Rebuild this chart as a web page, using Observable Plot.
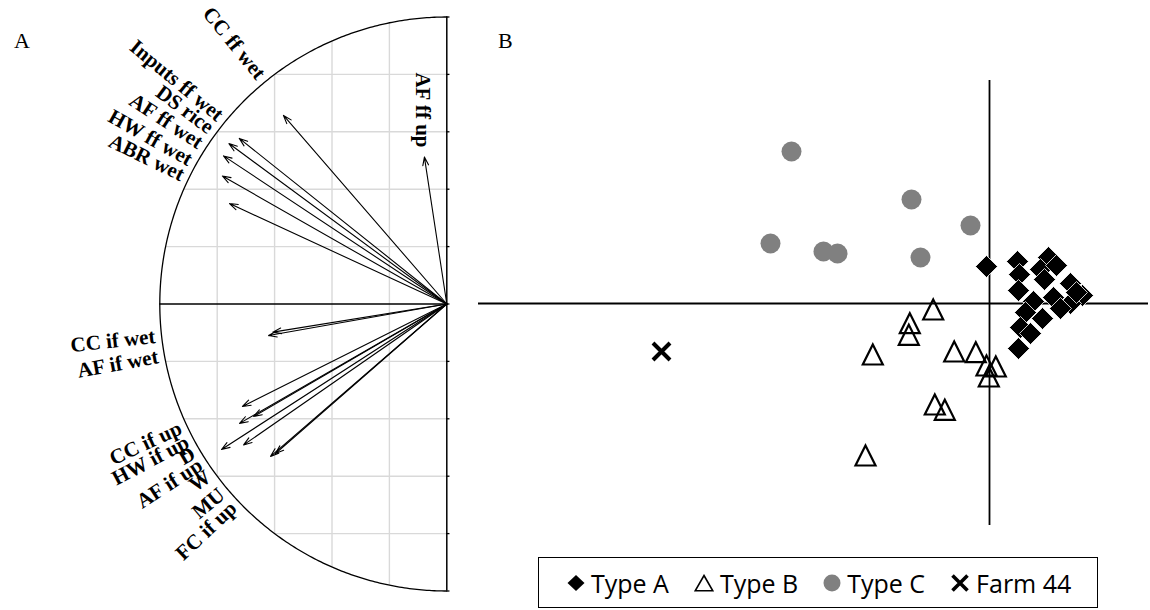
<!DOCTYPE html>
<html><head><meta charset="utf-8">
<script src="https://cdn.jsdelivr.net/npm/d3@7"></script>
<script src="https://cdn.jsdelivr.net/npm/@observablehq/plot@0.6"></script>
<style>
body{margin:0;background:#fff;}
#wrap{position:relative;width:1150px;height:610px;overflow:hidden;background:#fff;}
#wrap > *{position:absolute;}
.plab{font-family:"Liberation Serif",serif;font-size:22px;line-height:1;}
#legend{left:538px;top:557px;width:560px;height:51px;box-sizing:border-box;border:1.5px solid #000;background:#fff;
  font-family:"Open Sans",sans-serif;font-size:25px;display:flex;align-items:center;padding-left:28px;}
.item{display:flex;align-items:center;margin-right:25px;}
.item svg{margin-right:6px;}
</style></head><body>
<div id="wrap"></div>
<script>
// ---------- Panel A: correlation circle ----------
const arrowNames = ["CC ff wet","Inputs ff wet","DS rice","AF ff wet","HW ff wet","ABR wet","AF ff up",
  "CC if wet","AF if wet","CC if up","HW if up","D","AF if up","W","MU","FC if up","FC if up 2"];
const arrowX = [-0.569,-0.723,-0.759,-0.778,-0.782,-0.757,-0.078,
  -0.621,-0.606,-0.712,-0.673,-0.722,-0.708,-0.785,-0.614,-0.597];
const arrowY = [0.657,0.577,0.559,0.516,0.446,0.350,0.512,
  -0.110,-0.098,-0.357,-0.392,-0.416,-0.491,-0.507,-0.531,-0.521];
// labels placed around the circle (polar angle in degrees)
const labelNames = ["CC ff wet","Inputs ff wet","DS rice","AF ff wet","HW ff wet","ABR wet",
  "CC if wet","AF if wet","CC if up","HW if up","D","AF if up","W","MU","FC if up"];
const labelAngles = [129.2,140.4,143.4,146.9,150.7,154.0,
  186.3,190.3,204.8,207.8,210.3,212.9,215.6,219.9,223.3];
const gridLevels = [-0.8,-0.6,-0.4,-0.2];
const gridLevelsY = [-0.8,-0.6,-0.4,-0.2,0.2,0.4,0.6,0.8];
const tickLevels = [-1,-0.8,-0.6,-0.4,-0.2,0,0.2,0.4,0.6,0.8,1];

// ---------- Panel B: farm scores ----------
const typeAx = [-0.03,0.28,0.59,0.51,0.30,0.29,0.81,0.93,0.81,0.64,0.44,0.36,0.53,0.31,0.41,0.29,0.71,0.87,0.67,0.55];
const typeAy = [0.37,0.42,0.46,0.34,0.29,0.13,0.20,0.08,0.00,0.06,0.02,-0.09,-0.15,-0.24,-0.30,-0.45,-0.05,0.11,0.38,0.24];
const typeBx = [-0.563,-0.797,-0.807,-1.167,-0.353,-0.137,-0.03,0.063,-0.007,-0.547,-0.447,-1.24];
const typeBy = [-0.06,-0.197,-0.313,-0.51,-0.48,-0.487,-0.62,-0.63,-0.73,-1.01,-1.063,-1.52];
const typeCx = [-1.98,-0.78,-0.19,-2.19,-1.66,-1.52,-0.69];
const typeCy = [1.52,1.04,0.78,0.60,0.52,0.50,0.46];
const farm44x = [-3.28];
const farm44y = [-0.48];
const legendLabels = ["Type A","Type B","Type C","Farm 44"];

const arrows = arrowX.map((x,i)=>({name:arrowNames[i],x,y:arrowY[i]}));
const labels = labelNames.map((t,i)=>({text:t,a:labelAngles[i]*Math.PI/180,deg:labelAngles[i]}));
const afUp = arrows.find(d=>d.name==="AF ff up");
const circlePts = d3.range(90,270.01,0.5).map(a=>({x:Math.cos(a*Math.PI/180),y:Math.sin(a*Math.PI/180)}));

const font = "Liberation Serif";
const plotA = Plot.plot({
  width:470,height:610,margin:0,
  style:{background:"transparent"},
  x:{domain:[-1,0],range:[159.3,446.3],axis:null},
  y:{domain:[-1,1],range:[590.5,16.5],axis:null},
  marks:[
    Plot.ruleX(gridLevels,{x:d=>d,y1:d=>-Math.sqrt(1-d*d),y2:d=>Math.sqrt(1-d*d),stroke:"#d9d9d9",strokeWidth:1.4}),
    Plot.ruleY(gridLevelsY,{y:d=>d,x1:d=>-Math.sqrt(1-d*d),x2:0,stroke:"#d9d9d9",strokeWidth:1.4}),
    Plot.line(circlePts,{x:"x",y:"y",stroke:"black",strokeWidth:1.3}),
    Plot.ruleX([0],{y1:-1,y2:1,stroke:"black",strokeWidth:1.5}),
    Plot.ruleY([0],{x1:-1,x2:0,stroke:"black",strokeWidth:1.5}),
    Plot.ruleY(tickLevels,{y:d=>d,x1:0,x2:0.011,stroke:"black",strokeWidth:1.3}),
    Plot.arrow(arrows,{x1:0,y1:0,x2:"x",y2:"y",stroke:"black",strokeWidth:1.1,headLength:12,headAngle:38}),
    Plot.text(labels,{x:d=>1.022*Math.cos(d.a),y:d=>1.022*Math.sin(d.a),text:"text",rotate:d=>180-d.deg,
      textAnchor:"end",lineAnchor:"middle",fontWeight:"bold",fontSize:21,fontFamily:font,fill:"black"}),
    Plot.text([afUp],{x:d=>d.x*1.065,y:d=>d.y*1.065,text:d=>d.name,rotate:90,textAnchor:"end",lineAnchor:"middle",
      fontWeight:"bold",fontSize:21,fontFamily:font,fill:"black"})
  ]
});
plotA.style.left="0px";plotA.style.top="0px";

// custom symbols
const triSym = {draw(ctx,size){const r=Math.sqrt(size/Math.PI);ctx.moveTo(0,-r);ctx.lineTo(r,r);ctx.lineTo(-r,r);ctx.closePath();}};
const diaSym = {draw(ctx,size){const r=Math.sqrt(size/Math.PI);ctx.moveTo(0,-r);ctx.lineTo(r,0);ctx.lineTo(0,r);ctx.lineTo(-r,0);ctx.closePath();}};
const xSym = {draw(ctx,size){const r=Math.sqrt(size/Math.PI);ctx.moveTo(-r,-r);ctx.lineTo(r,r);ctx.moveTo(r,-r);ctx.lineTo(-r,r);}};

const A = typeAx.map((x,i)=>({x,y:typeAy[i]}));
const B = typeBx.map((x,i)=>({x,y:typeBy[i]}));
const C = typeCx.map((x,i)=>({x,y:typeCy[i]}));
const F = farm44x.map((x,i)=>({x,y:farm44y[i]}));
const xd=[-5.11,1.59], yd=[-2.22,2.23];
const plotB = Plot.plot({
  width:680,height:610,margin:0,
  style:{background:"transparent"},
  x:{domain:xd,range:[8,678],axis:null},
  y:{domain:yd,range:[525,80],axis:null},
  marks:[
    Plot.ruleY([0],{x1:xd[0],x2:xd[1],stroke:"black",strokeWidth:1.8}),
    Plot.ruleX([0],{y1:yd[0],y2:yd[1],stroke:"black",strokeWidth:1.8}),
    Plot.dot(C,{x:"x",y:"y",r:10,fill:"#808080",stroke:"none"}),
    Plot.dot(B,{x:"x",y:"y",r:10,symbol:triSym,fill:"none",stroke:"black",strokeWidth:2.2}),
    Plot.dot(A,{x:"x",y:"y",r:11,symbol:diaSym,fill:"black",stroke:"white",strokeWidth:0.8}),
    Plot.dot(F,{x:"x",y:"y",r:8.5,symbol:xSym,fill:"none",stroke:"black",strokeWidth:4})
  ]
});
plotB.style.left="470px";plotB.style.top="0px";

const wrap = document.getElementById("wrap");
wrap.appendChild(plotA);
wrap.appendChild(plotB);
const la = document.createElement("div");la.className="plab";la.textContent="A";la.style.left="14px";la.style.top="30px";
const lb = document.createElement("div");lb.className="plab";lb.textContent="B";lb.style.left="498px";lb.style.top="30px";
wrap.appendChild(la);wrap.appendChild(lb);

// legend
const legSyms = [
  '<svg width="18" height="18" viewBox="-9 -9 18 18"><path d="M0,-8L8.5,0L0,8L-8.5,0Z" fill="black"/></svg>',
  '<svg width="20" height="18" viewBox="-10 -9 20 18"><path d="M0,-7.5L8.8,7.8L-8.8,7.8Z" fill="none" stroke="black" stroke-width="1.6"/></svg>',
  '<svg width="18" height="18" viewBox="-9 -9 18 18"><circle r="8.5" fill="#808080"/></svg>',
  '<svg width="20" height="20" viewBox="-10 -10 20 20"><path d="M-7.5,-7.5L7.5,7.5M7.5,-7.5L-7.5,7.5" stroke="black" stroke-width="3.6" fill="none"/></svg>'
];
const leg = document.createElement("div");leg.id="legend";
legendLabels.forEach((t,i)=>{
  const it=document.createElement("div");it.className="item";
  it.innerHTML=legSyms[i]+'<span>'+t+'</span>';
  leg.appendChild(it);
});
wrap.appendChild(leg);
</script>
</body></html>
